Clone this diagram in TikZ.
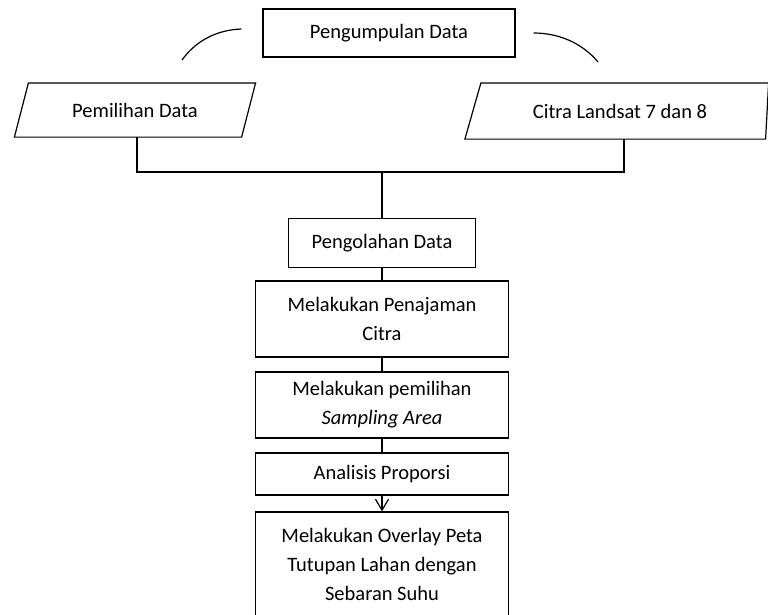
\documentclass[tikz,border=0pt]{standalone}
\usepackage{fontspec}
\setmainfont{Carlito}
\usetikzlibrary{
	shapes.geometric,   %bentuk geometri
	arrows.meta,        %Straight Barb
	positioning         %relative placement
}
\tikzset{
	process/.style={rectangle,
		draw,
		align=center,
		minimum width=253pt},
	dataio/.style={rectangle,
		align=center}
}
\tikzset{
	every picture/.style={
		>={Straight Barb[length=11pt,width=13pt]},
		line width=1.2pt
}}

\begin{document}
\begin{tikzpicture}[x=1pt,y=-1pt,font=\fontsize{20.5}{29}\selectfont]
	\useasboundingbox (0,0) rectangle (768,614);
	\node (pengumpulan) at (389,33) [process,minimum width=252pt,minimum height=48pt] {Pengumpulan Data};
	\node (pemilihan) at (135,110) [dataio,minimum width=226pt,minimum height=53pt] {Pemilihan Data};
	\node (citra) at (620,111) [dataio,minimum width=293pt,minimum height=55pt] {Citra Landsat 7 dan 8};
	\draw ([xshift=7pt]pemilihan.north west) -- ([xshift=7pt]pemilihan.north east)
		-- ([xshift=-7pt]pemilihan.south east) -- ([xshift=-7pt]pemilihan.south west) -- cycle;
	\draw ([xshift=8pt]citra.north west) -- ([xshift=1.5pt]citra.north east)
		-- ([xshift=-1.5pt]citra.south east) -- ([xshift=-8pt]citra.south west) -- cycle;
	\coordinate (gabung) at (382,172);
	\node (pengolahan) at (382,243) [process,minimum width=187pt,minimum height=49pt] {Pengolahan Data};
	\node (penajaman) at (382,319) [process,minimum height=76pt] {Melakukan Penajaman\\Citra};
	\node (sampling) at (382,405) [process,minimum height=66pt] {Melakukan pemilihan\\\textit{Sampling Area}};
	\node (analisis) at (382,474) [process,minimum height=42pt] {Analisis Proporsi};
	\node (overlay) at (382,564) [process,minimum height=104pt] {Melakukan Overlay Peta\\Tutupan Lahan dengan\\Sebaran Suhu};
	% lengkung di samping judul
	\draw ([xshift=-21pt,yshift=4pt]pengumpulan.west) .. controls (215,30) and (195,42) .. (182,60);
	\draw ([xshift=18pt]pengumpulan.east) .. controls (560,33) and (583,44) .. (598,62);
	\draw ([xshift=2pt]pemilihan.south) |- (gabung) -| ([xshift=4pt]citra.south);
	\draw (gabung) -- (pengolahan.north);
	\draw (pengolahan) -- (penajaman);
	\draw (penajaman) -- (sampling);
	\draw (sampling) -- (analisis);
	\draw[->] (analisis) -- (overlay);
\end{tikzpicture}
\end{document}
